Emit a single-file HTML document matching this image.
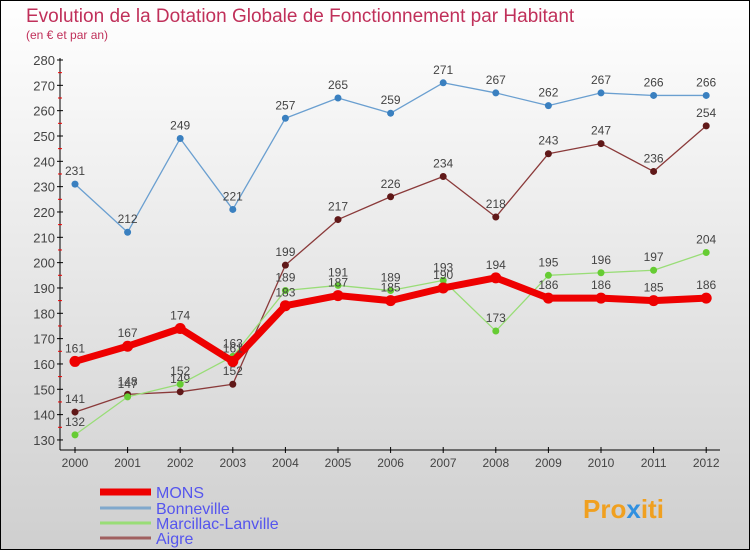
<!DOCTYPE html>
<html><head><meta charset="utf-8"><style>
body{margin:0}
svg{display:block;font-family:"Liberation Sans",sans-serif}
</style></head><body>
<svg id="c" width="750" height="550">
<defs><linearGradient id="bg" x1="0" y1="0" x2="0" y2="1"><stop offset="0" stop-color="#ffffff"/><stop offset="1" stop-color="#cfcfcf"/></linearGradient></defs>
<rect x="0.5" y="0.5" width="749" height="549" fill="url(#bg)" stroke="#000"/>
<text x="26" y="22" font-size="19" fill="#c0305a">Evolution de la Dotation Globale de Fonctionnement par Habitant</text>
<text x="26" y="39" font-size="12" fill="#c0305a">(en € et par an)</text>
<g id="axes"></g><g id="series"></g><g id="legend"></g>
<text x="583" y="518" font-size="26" font-weight="bold" fill="#f0a020">Pro<tspan fill="#3090e0">x</tspan>iti</text>
</svg>
<script>
const years=["2000","2001","2002","2003","2004","2005","2006","2007","2008","2009","2010","2011","2012"];
const yTicks=[130,140,150,160,170,180,190,200,210,220,230,240,250,260,270,280];
const mons=[161,167,174,161,183,187,185,190,194,186,186,185,186];
const bonneville=[231,212,249,221,257,265,259,271,267,262,267,266,266];
const marcillac=[132,147,152,163,189,191,189,193,173,195,196,197,204];
const aigre=[141,148,149,152,199,217,226,234,218,243,247,236,254];
const NS="http://www.w3.org/2000/svg";
function X(i){return 75+i*52.6;}
function Y(v){return 60+(280-v)*2.533;}
function mk(t,a,p){const e=document.createElementNS(NS,t);for(const k in a)e.setAttribute(k,a[k]);p.appendChild(e);return e;}
const ax=document.getElementById('axes');
let l=mk('line',{x1:60,y1:58,x2:60,y2:450,stroke:'#000'},ax);

l=mk('line',{x1:60,y1:450,x2:720,y2:450,stroke:'#000'},ax);

yTicks.forEach(v=>{const y=Y(v);mk('line',{x1:57,y1:y,x2:63,y2:y,stroke:'#000'},ax);
 if(v<280)mk('line',{x1:58,y1:y-12.67,x2:62,y2:y-12.67,stroke:'#e00'},ax);
 const t=mk('text',{x:55,y:y+5,'font-size':13,fill:'#444','text-anchor':'end'},ax);t.textContent=v;
 });
years.forEach((yr,i)=>{const x=X(i);mk('line',{x1:x,y1:447,x2:x,y2:453,stroke:'#000'},ax);
 const t=mk('text',{x:x,y:467,'font-size':12,fill:'#444','text-anchor':'middle'},ax);t.textContent=yr;
 });
const sg=document.getElementById('series');
function draw(name,d,col,w,r,dot){const g=mk('g',{},sg);
 
 const p=mk('polyline',{points:d.map((v,i)=>X(i)+','+Y(v)).join(' '),fill:'none',stroke:col,'stroke-width':w,'stroke-linejoin':'round'},g);
 
 d.forEach((v,i)=>{const c=mk('circle',{cx:X(i),cy:Y(v),r:r,fill:dot},g);
  
  const t=mk('text',{x:X(i),y:Y(v)-9,'font-size':12,fill:'#444','text-anchor':'middle'},g);t.textContent=v;
  });}
draw('bonneville',bonneville,'#6a9fd0',1.3,3.5,'#3a80c0');
draw('aigre',aigre,'#8a3a3a',1.3,3.5,'#601818');
draw('marcillac',marcillac,'#99dd77',1.3,3.5,'#66cc33');
draw('mons',mons,'#ee0000',7,5.5,'#ee0000');
const lg=document.getElementById('legend');
[["MONS","#ee0000",7],["Bonneville","#80a8cc",3],["Marcillac-Lanville","#99dd77",3],["Aigre","#a06060",3]].forEach((e,i)=>{
 const y=[492,508,523,538][i];const g=mk('g',{},lg);
 
 mk('line',{x1:100,y1:y,x2:151,y2:y,stroke:e[1],'stroke-width':e[2]},g);
 const t=mk('text',{x:156,y:y+6,'font-size':16,fill:'#5555ee'},g);t.textContent=e[0];});
</script>
</body></html>
